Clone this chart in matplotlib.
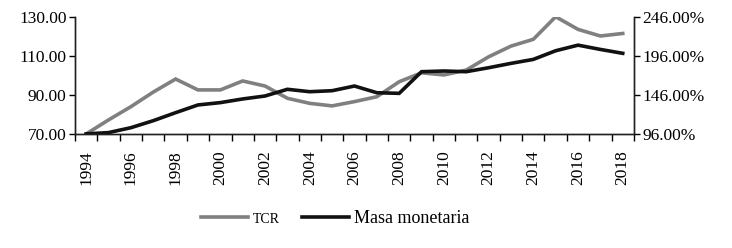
import matplotlib
matplotlib.use("Agg")
import matplotlib.pyplot as plt
import numpy as np

years = list(range(1994, 2019))
tcr = [70.0, 77.2, 84.0, 91.5, 98.2, 92.6, 92.6, 97.2, 94.6, 88.3, 85.7, 84.4, 86.6,
       89.1, 96.8, 101.4, 100.3, 102.8, 109.6, 115.1, 118.6, 130.2, 123.7, 120.3, 121.6]
masa = [96.0, 97.7, 104.0, 113.0, 123.3, 133.2, 136.2, 140.9, 144.7, 153.3, 150.2, 151.5, 157.5,
        148.9, 148.1, 175.9, 176.8, 175.9, 181.0, 186.6, 191.7, 202.8, 210.0, 204.5, 199.5]
left_ticks = [70, 90, 110, 130]
right_ticks = [96, 146, 196, 246]

plt.rcParams['font.family'] = ['Liberation Serif', 'DejaVu Serif']

fig = plt.figure(figsize=(7.32, 2.48), dpi=100)
ax = fig.add_axes([0.1025, 0.46, 0.7635, 0.471])
ax2 = ax.twinx()

x = np.arange(len(years))
l1, = ax.plot(x, tcr, color='#808080', lw=2.6, solid_joinstyle='miter')
l2, = ax2.plot(x, masa, color='#111111', lw=2.6, solid_joinstyle='miter')

ax.set_xlim(-0.5, len(years) - 0.5)
ax.set_ylim(70, 130)
ax2.set_ylim(96, 246)
ax.set_yticks(left_ticks)
ax.set_yticklabels([f"{v:.2f}" for v in left_ticks], fontsize=12.5)
ax2.set_yticks(right_ticks)
ax2.set_yticklabels([f"{v:.2f}%" for v in right_ticks], fontsize=12.5)

ax.set_xticks(np.arange(len(years) + 1) - 0.5)
ax.set_xticklabels([])
ax.set_xticks(x[::2], minor=True)
ax.set_xticklabels([str(y) for y in years[::2]], minor=True, rotation=90, fontsize=12.5)
ax.tick_params(axis='x', which='major', length=5, width=1, direction='out')
ax.tick_params(axis='x', which='minor', length=0, pad=12)
ax.tick_params(axis='y', length=4, width=1, direction='out', pad=2)
ax2.tick_params(axis='y', length=4, width=1, direction='out', pad=2)

for a in (ax, ax2):
    a.spines['top'].set_visible(False)
    for s in ('left', 'right', 'bottom'):
        a.spines[s].set_linewidth(1.0)
        a.spines[s].set_color('#222222')

fig.legend([l1, l2], ['TCR', 'Masa monetaria'], loc='center', bbox_to_anchor=(0.458, 0.118),
           ncol=2, frameon=False, fontsize=13, handlelength=2.6, handletextpad=0.3,
           columnspacing=1.2)
leg = fig.legends[0]
leg.get_texts()[0].set_fontsize(10)

fig.savefig('out.png', dpi=100)
